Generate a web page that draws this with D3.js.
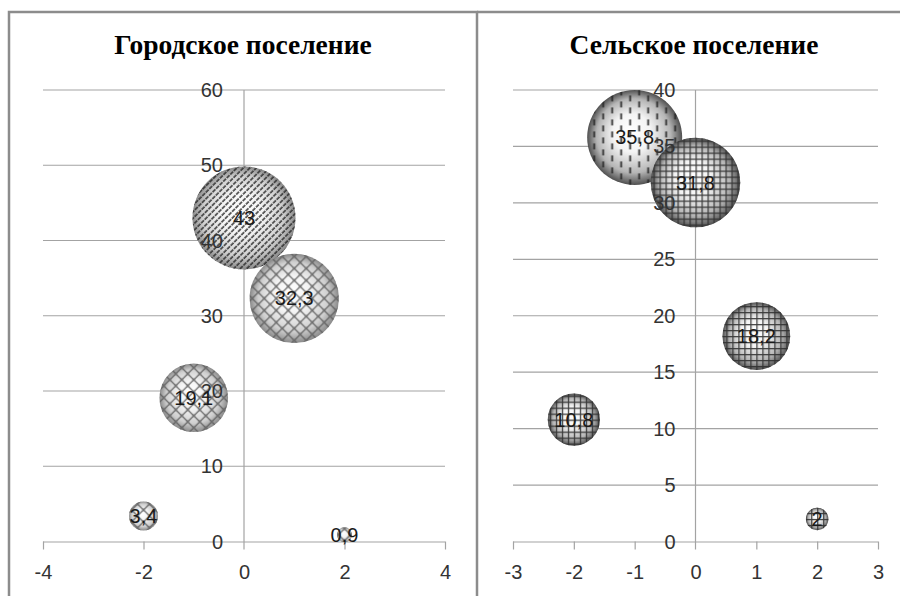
<!DOCTYPE html>
<html><head><meta charset="utf-8">
<script src="https://cdn.jsdelivr.net/npm/d3@7"></script>
<style>body{margin:0;background:#fff}svg{display:block}</style>
</head><body><svg id="c" width="900" height="596"></svg>
<script>
// ---- data ----
const urbanTitle = "Городское поселение";
const urbanX = [0, 1, -1, -2, 2];
const urbanY = [43, 32.3, 19.1, 3.4, 0.9];
const urbanSize = [43, 32.3, 19.1, 3.4, 0.9];
const urbanXTicks = [-4, -2, 0, 2, 4];
const urbanYTicks = [0, 10, 20, 30, 40, 50, 60];

const ruralTitle = "Сельское поселение";
const ruralX = [-1, 0, 1, -2, 2];
const ruralY = [35.8, 31.8, 18.2, 10.8, 2];
const ruralSize = [35.8, 31.8, 18.2, 10.8, 2];
const ruralXTicks = [-3, -2, -1, 0, 1, 2, 3];
const ruralYTicks = [0, 5, 10, 15, 20, 25, 30, 35, 40];

// style mapping (per point fill pattern)
const urbanPatterns = ["diag", "lattice", "lattice", "lattice", "lattice"];
const ruralPatterns = ["dash", "grid", "grid", "grid", "grid"];

const svg = d3.select("#c");
const defs = svg.append("defs");
const FONT = "'Liberation Sans', Arial, sans-serif";
const FS = 20;

// gradients
function sphereGrad(id, mid, edge) {
  const g = defs.append("radialGradient").attr("id", id)
    .attr("cx", "50%").attr("cy", "50%").attr("r", "50%").attr("fx", "45%").attr("fy", "42%");
  g.append("stop").attr("offset", "0%").attr("stop-color", "#ffffff");
  g.append("stop").attr("offset", "40%").attr("stop-color", "#f4f4f4");
  g.append("stop").attr("offset", "78%").attr("stop-color", mid);
  g.append("stop").attr("offset", "100%").attr("stop-color", edge);
}
sphereGrad("gLight", "#cfcfcf", "#8a8a8a");
sphereGrad("gDark", "#b5b5b5", "#505050");

// patterns
let p = defs.append("pattern").attr("id", "diag").attr("patternUnits", "userSpaceOnUse")
  .attr("width", 4.6).attr("height", 10).attr("patternTransform", "rotate(45)");
p.append("line").attr("x1", 1).attr("y1", 0).attr("x2", 1).attr("y2", 10)
  .attr("stroke", "#262626").attr("stroke-width", 1.5).attr("stroke-dasharray", "4,1");

p = defs.append("pattern").attr("id", "lattice").attr("patternUnits", "userSpaceOnUse")
  .attr("width", 12).attr("height", 12);
p.append("path").attr("d", "M0,6 L6,0 L12,6 L6,12 Z").attr("fill", "none")
  .attr("stroke", "#555").attr("stroke-width", 1.2);
p.selectAll("circle.k").data([[0,6],[6,0],[12,6],[6,12]]).join("circle")
  .attr("cx", d => d[0]).attr("cy", d => d[1]).attr("r", 1.4).attr("fill", "#666");

p = defs.append("pattern").attr("id", "grid").attr("patternUnits", "userSpaceOnUse")
  .attr("width", 6).attr("height", 6);
p.append("path").attr("d", "M0,0.6 H6 M0.6,0 V6").attr("stroke", "#2e2e2e").attr("stroke-width", 1.3);

p = defs.append("pattern").attr("id", "dash").attr("patternUnits", "userSpaceOnUse")
  .attr("width", 18).attr("height", 12);
p.append("line").attr("x1", 4.5).attr("y1", 0).attr("x2", 4.5).attr("y2", 6)
  .attr("stroke", "#222").attr("stroke-width", 1.8);
p.append("line").attr("x1", 13.5).attr("y1", 6).attr("x2", 13.5).attr("y2", 12)
  .attr("stroke", "#222").attr("stroke-width", 1.8);

// panel borders
const border = "#8c8c8c";
svg.append("path").attr("d", "M9,596 V12 H477 V596").attr("fill", "none").attr("stroke", border).attr("stroke-width", 2.5);
svg.append("path").attr("d", "M477,12 H900").attr("fill", "none").attr("stroke", border).attr("stroke-width", 2.5);

function panel(cfg) {
  const g = svg.append("g");
  const x = d3.scaleLinear().domain(cfg.xDom).range(cfg.xRange);
  const y = d3.scaleLinear().domain(cfg.yDom).range(cfg.yRange);
  const r = d3.scaleSqrt().domain([0, d3.max(cfg.size)]).range([0, cfg.rMax]);
  const grid = "#a3a3a3";

  // title
  g.append("text").attr("x", cfg.titleX).attr("y", 54).attr("text-anchor", "middle")
    .attr("font-family", "'Liberation Serif', 'Times New Roman', serif").attr("font-weight", "bold")
    .attr("font-size", 27.5).attr("fill", "#000").text(cfg.title);

  // horizontal gridlines
  g.append("g").selectAll("line").data(cfg.yTicks.filter(t => t !== 0)).join("line")
    .attr("x1", cfg.xRange[0]).attr("x2", cfg.xRange[1])
    .attr("y1", d => y(d)).attr("y2", d => y(d))
    .attr("stroke", grid).attr("stroke-width", 1.2);

  // x axis
  const xAxis = g.append("g").attr("transform", `translate(0,${y(0)})`)
    .call(d3.axisBottom(x).tickValues(cfg.xTicks).tickSize(8).tickFormat(d3.format("d")));
  xAxis.select(".domain").attr("stroke", grid).attr("stroke-width", 1.2)
    .attr("d", `M${cfg.xRange[0]},0.5H${cfg.xRange[1]}`);
  xAxis.selectAll(".tick line").attr("stroke", grid).attr("stroke-width", 1.2);
  xAxis.selectAll(".tick text").attr("font-family", FONT).attr("font-size", FS)
    .attr("fill", "#333").attr("dy", null).attr("dominant-baseline", "central").attr("y", 30)
    .text(d => d3.format("d")(d).replace("−", "-"));
  xAxis.selectAll(".tick").filter(d => d === 0).select("line").remove();

  // y axis line at x=0
  g.append("line").attr("x1", x(0)).attr("x2", x(0)).attr("y1", y(cfg.yDom[1])).attr("y2", y(0) + 8)
    .attr("stroke", grid).attr("stroke-width", 1.2);

  // bubbles
  const pts = cfg.xv.map((xv, i) => ({ x: xv, y: cfg.yv[i], s: cfg.size[i], pat: cfg.patterns[i] }));
  const b = g.append("g").selectAll("g").data(pts).join("g")
    .attr("transform", d => `translate(${x(d.x)},${y(d.y)})`);
  b.append("circle").attr("r", d => r(d.s)).attr("fill", `url(#${cfg.grad})`);
  b.append("circle").attr("r", d => r(d.s)).attr("fill", d => `url(#${d.pat})`).attr("opacity", 0.92);

  // y tick labels (on top)
  g.append("g").selectAll("text").data(cfg.yTicks).join("text")
    .attr("x", x(0) - cfg.yLabGap).attr("y", d => y(d)).attr("text-anchor", "end")
    .attr("dominant-baseline", "central")
    .attr("font-family", FONT).attr("font-size", FS).attr("fill", "#333").text(d => d);

  // bubble labels
  g.append("g").selectAll("text").data(pts).join("text")
    .attr("x", d => x(d.x)).attr("y", d => y(d.y)).attr("text-anchor", "middle")
    .attr("dominant-baseline", "central")
    .attr("font-family", FONT).attr("font-size", FS).attr("fill", "#1a1a1a")
    .text(d => String(d.s).replace(".", ","));
}

panel({
  title: urbanTitle, titleX: 243,
  xv: urbanX, yv: urbanY, size: urbanSize, patterns: urbanPatterns,
  xDom: [-4, 4], xRange: [43, 445], yDom: [0, 60], yRange: [541.5, 90],
  xTicks: urbanXTicks, yTicks: urbanYTicks, rMax: 51.5, grad: "gLight", yLabGap: 21
});
panel({
  title: ruralTitle, titleX: 694,
  xv: ruralX, yv: ruralY, size: ruralSize, patterns: ruralPatterns,
  xDom: [-3, 3], xRange: [513, 878], yDom: [0, 40], yRange: [541.5, 90],
  xTicks: ruralXTicks, yTicks: ruralYTicks, rMax: 47.5, grad: "gDark", yLabGap: 20
});
</script></body></html>
